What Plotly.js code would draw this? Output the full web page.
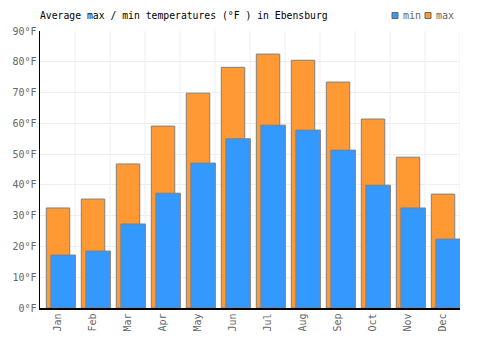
<!DOCTYPE html>
<html><head><meta charset="utf-8">
<script src="https://cdn.plot.ly/plotly-3.0.1.min.js"></script>
<style>html,body{margin:0;padding:0;background:#fff}#chart{width:500px;height:350px}</style>
</head><body><div id="chart"></div>
<script>
var months = ["Jan","Feb","Mar","Apr","May","Jun","Jul","Aug","Sep","Oct","Nov","Dec"];
var minTemps = [17.2, 18.5, 27.3, 37.3, 47.1, 55.0, 59.4, 57.8, 51.3, 39.9, 32.5, 22.4];
var maxTemps = [32.5, 35.4, 46.8, 59.1, 69.8, 78.2, 82.5, 80.5, 73.4, 61.4, 49.0, 37.0];
var yTicks = [0,10,20,30,40,50,60,70,80,90];
var seriesNames = ["min","max"];
var seriesColors = ["#3399ff","#ff9933"];

var font = "DejaVu Sans Mono, monospace";
var traces = [
  {type:"bar", name:"max", x:months, y:maxTemps, width:0.67, offset:-0.32,
   marker:{color:seriesColors[1], line:{color:"#808080", width:1}}, hoverinfo:"none"},
  {type:"bar", name:"min", x:months, y:minTemps, width:0.70, offset:-0.19,
   marker:{color:seriesColors[0], line:{color:"#808080", width:1}}, hoverinfo:"none"}
];

var shapes = months.map(function(m,i){
  return {type:"line", xref:"x", yref:"paper", x0:i+0.5, x1:i+0.5, y0:0, y1:1,
          line:{color:"#eeeeee", width:1}, layer:"below"};
});
var annotations = [];
var legX = [392, 425];
seriesNames.forEach(function(n,i){
  var x0 = legX[i];
  shapes.push({type:"rect", xref:"paper", yref:"paper",
    x0:(x0-40)/420, x1:(x0+6-40)/420, y0:(308-18.5)/277, y1:(308-12.5)/277,
    fillcolor:seriesColors[i], line:{color:"#666", width:1}});
  annotations.push({text:n, xref:"paper", yref:"paper", x:(x0+8.5-40)/420, xanchor:"left",
    y:(308-15.5)/277, yanchor:"middle", showarrow:false, font:{family:font, size:10, color:"#666"}});
});

var layout = {
  width:500, height:350,
  margin:{l:40, r:40, t:31, b:42},
  paper_bgcolor:"#fff", plot_bgcolor:"#fff",
  barmode:"overlay",
  font:{family:font, size:10, color:"#666"},
  title:{text:"Average max / min temperatures (°F ) in Ebensburg", x:40/500, xanchor:"left", xref:"container",
         y:1-16/350, yanchor:"middle", yref:"container", font:{family:font, size:9.75, color:"#000"}},
  showlegend:false,
  xaxis:{type:"category", tickangle:-90, showgrid:false, showline:true, linecolor:"#000", linewidth:1.5,
         ticks:"", range:[-0.5,11.5], fixedrange:true, zeroline:false},
  yaxis:{range:[0,90], tickvals:yTicks, ticktext:yTicks.map(function(v){return v+"°F";}),
         showgrid:true, gridcolor:"#eeeeee", showline:true, linecolor:"#000", linewidth:1.5,
         ticks:"", zeroline:false, fixedrange:true},
  shapes: shapes,
  annotations: annotations
};
Plotly.newPlot("chart", traces, layout, {staticPlot:true, displayModeBar:false});
</script></body></html>
